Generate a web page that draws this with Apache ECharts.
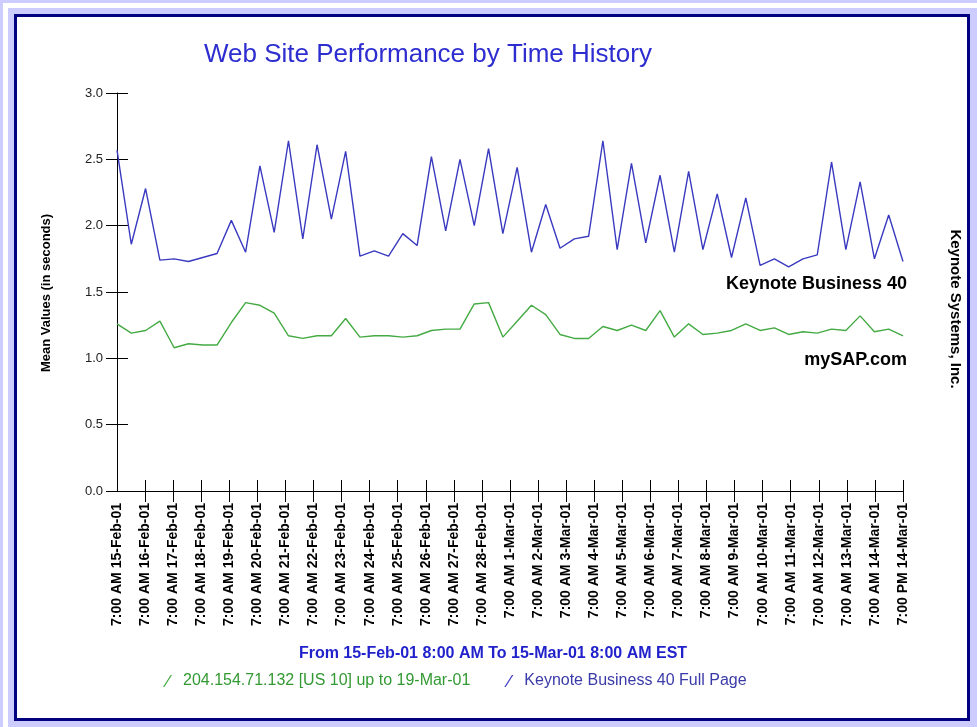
<!DOCTYPE html>
<html>
<head>
<meta charset="utf-8">
<script src="https://cdn.jsdelivr.net/npm/echarts@6/dist/echarts.min.js"></script>
<style>
  body { margin: 0; background: #ccccff; }
  #frame1 { position: absolute; left: 3px; top: 3px; width: 974px; height: 724px; background: #fff; }
  #frame2 { position: absolute; left: 8px; top: 8px; width: 969px; height: 719px; background: #ccccff; }
  #frame3 { position: absolute; left: 14px; top: 14px; width: 956px; height: 707px; background: #fff;
            border: 3px solid #000080; box-sizing: border-box; }
  #chart { position: absolute; left: 0; top: 0; width: 977px; height: 727px; }
</style>
</head>
<body>
<div id="frame1"></div>
<div id="frame2"></div>
<div id="frame3"></div>
<div id="chart"></div>
<script>
// tick labels, one per day
const dayLabels = [
  "7:00 AM 15-Feb-01", "7:00 AM 16-Feb-01", "7:00 AM 17-Feb-01", "7:00 AM 18-Feb-01",
  "7:00 AM 19-Feb-01", "7:00 AM 20-Feb-01", "7:00 AM 21-Feb-01", "7:00 AM 22-Feb-01",
  "7:00 AM 23-Feb-01", "7:00 AM 24-Feb-01", "7:00 AM 25-Feb-01", "7:00 AM 26-Feb-01",
  "7:00 AM 27-Feb-01", "7:00 AM 28-Feb-01", "7:00 AM 1-Mar-01", "7:00 AM 2-Mar-01",
  "7:00 AM 3-Mar-01", "7:00 AM 4-Mar-01", "7:00 AM 5-Mar-01", "7:00 AM 6-Mar-01",
  "7:00 AM 7-Mar-01", "7:00 AM 8-Mar-01", "7:00 AM 9-Mar-01", "7:00 AM 10-Mar-01",
  "7:00 AM 11-Mar-01", "7:00 AM 12-Mar-01", "7:00 AM 13-Mar-01", "7:00 AM 14-Mar-01",
  "7:00 PM 14-Mar-01"
];

// Keynote Business 40 Full Page (blue)
const keynoteValues = [
  2.57, 1.86, 2.28, 1.74, 1.75, 1.73, 1.76, 1.79, 2.04, 1.80,
  2.45, 1.95, 2.64, 1.90, 2.61, 2.05, 2.56, 1.77, 1.81, 1.77,
  1.94, 1.85, 2.52, 1.96, 2.50, 2.00, 2.58, 1.94, 2.44, 1.80,
  2.16, 1.83, 1.90, 1.92, 2.64, 1.82, 2.47, 1.87, 2.38, 1.80,
  2.41, 1.82, 2.24, 1.76, 2.21, 1.70, 1.75, 1.69, 1.75, 1.78,
  2.48, 1.82, 2.33, 1.75, 2.08, 1.73
];

// 204.154.71.132 mySAP.com (green)
const mysapValues = [
  1.26, 1.19, 1.21, 1.28, 1.08, 1.11, 1.10, 1.10, 1.27, 1.42,
  1.40, 1.34, 1.17, 1.15, 1.17, 1.17, 1.30, 1.16, 1.17, 1.17,
  1.16, 1.17, 1.21, 1.22, 1.22, 1.41, 1.42, 1.16, 1.28, 1.40,
  1.33, 1.18, 1.15, 1.15, 1.24, 1.21, 1.25, 1.21, 1.36, 1.16,
  1.26, 1.18, 1.19, 1.21, 1.26, 1.21, 1.23, 1.18, 1.20, 1.19,
  1.22, 1.21, 1.32, 1.20, 1.22, 1.17
];

const FONT = "'Liberation Sans', Arial, sans-serif";
const BLUE = "#3a3ac0";
const GREEN = "#44aa44";
const slashIcon = "path://M0,12 L1.4,12 L9,0 L7.6,0 Z";

const chart = echarts.init(document.getElementById("chart"));

const tickSkipFirst = function (i) { return i > 0; };

chart.setOption({
  animation: false,
  textStyle: { fontFamily: FONT },
  grid: { left: 117, right: 74, top: 93, bottom: 236 },
  title: {
    text: "Web Site Performance by Time History",
    left: 199,
    top: 37,
    textStyle: { color: "#2d2dd0", fontSize: 26, fontWeight: "normal", fontFamily: FONT }
  },
  legend: {
    left: 158,
    top: 668,
    itemWidth: 9,
    itemHeight: 12,
    itemGap: 34,
    textStyle: { fontSize: 16, fontFamily: FONT, padding: [0, 0, 0, 6] },
    data: [
      { name: "204.154.71.132 [US 10] up to 19-Mar-01", icon: slashIcon, textStyle: { color: "#339933" } },
      { name: "Keynote Business 40 Full Page", icon: slashIcon, textStyle: { color: "#3a3aa8" } }
    ]
  },
  xAxis: [
    {
      type: "category",
      data: dayLabels,
      boundaryGap: false,
      position: "bottom",
      axisLine: { lineStyle: { color: "#000", width: 1 } },
      axisTick: { length: 11, interval: tickSkipFirst, lineStyle: { color: "#000" } },
      axisLabel: {
        interval: 0, rotate: 90, margin: 12,
        color: "#000", fontSize: 14, fontWeight: "bold", fontFamily: FONT
      },
      splitLine: { show: false }
    },
    {
      type: "category",
      data: dayLabels,
      boundaryGap: false,
      position: "bottom",
      axisLine: { show: false },
      axisTick: { inside: true, length: 11, interval: tickSkipFirst, lineStyle: { color: "#000" } },
      axisLabel: { show: false },
      splitLine: { show: false }
    },
    { type: "value", min: 0, max: keynoteValues.length - 1, show: false }
  ],
  yAxis: [
    {
      type: "value",
      min: 0, max: 3, interval: 0.5,
      position: "left",
      axisLine: { show: true, lineStyle: { color: "#000", width: 1 } },
      axisTick: { show: true, length: 11, lineStyle: { color: "#000" } },
      axisLabel: {
        margin: 14, color: "#222", fontSize: 13, fontFamily: FONT,
        formatter: function (v) { return v.toFixed(1); }
      },
      splitLine: { show: false }
    },
    {
      type: "value",
      min: 0, max: 3, interval: 0.5,
      position: "left",
      axisLine: { show: false },
      axisTick: { show: true, inside: true, length: 11, lineStyle: { color: "#000" } },
      axisLabel: { show: false },
      splitLine: { show: false }
    }
  ],
  graphic: [
    {
      type: "text", x: 46, y: 293, rotation: Math.PI / 2,
      style: { text: "Mean Values (in seconds)", fill: "#000", font: "bold 13px " + FONT,
               align: "center", verticalAlign: "middle", textAlign: "center", textVerticalAlign: "middle" }
    },
    {
      type: "text", x: 955, y: 309, rotation: -Math.PI / 2,
      style: { text: "Keynote Systems, Inc.", fill: "#000", font: "bold 15px " + FONT,
               align: "center", verticalAlign: "middle", textAlign: "center", textVerticalAlign: "middle" }
    },
    {
      type: "text", x: 907, y: 284,
      style: { text: "Keynote Business 40", fill: "#000", font: "bold 18px " + FONT,
               align: "right", verticalAlign: "middle", textAlign: "right", textVerticalAlign: "middle" }
    },
    {
      type: "text", x: 907, y: 360,
      style: { text: "mySAP.com", fill: "#000", font: "bold 18px " + FONT,
               align: "right", verticalAlign: "middle", textAlign: "right", textVerticalAlign: "middle" }
    },
    {
      type: "text", x: 493, y: 654,
      style: { text: "From 15-Feb-01 8:00 AM To 15-Mar-01 8:00 AM EST", fill: "#2222cc", font: "bold 16px " + FONT,
               align: "center", verticalAlign: "middle", textAlign: "center", textVerticalAlign: "middle" }
    }
  ],
  series: [
    {
      name: "204.154.71.132 [US 10] up to 19-Mar-01",
      type: "line",
      xAxisIndex: 2,
      yAxisIndex: 0,
      symbol: "none",
      lineStyle: { color: GREEN, width: 1.4 },
      itemStyle: { color: GREEN },
      data: mysapValues.map(function (v, i) { return [i, v]; })
    },
    {
      name: "Keynote Business 40 Full Page",
      type: "line",
      xAxisIndex: 2,
      yAxisIndex: 0,
      symbol: "none",
      lineStyle: { color: BLUE, width: 1.4 },
      itemStyle: { color: BLUE },
      data: keynoteValues.map(function (v, i) { return [i, v]; })
    }
  ]
});
</script>
</body>
</html>
